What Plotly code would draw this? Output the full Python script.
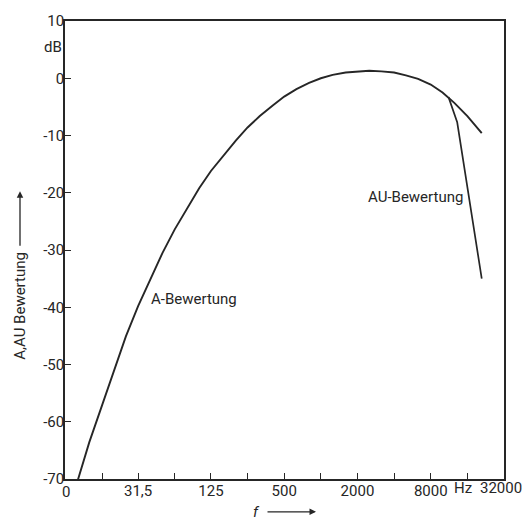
import numpy as np
import plotly.graph_objects as go

# A-weighting curve (Hz, dB)
a_freq = [10, 12.5, 16, 20, 25, 31.5, 40, 50, 63, 80, 100, 125, 160, 200, 250, 315,
          400, 500, 630, 800, 1000, 1250, 1600, 2000, 2500, 3150, 4000, 5000, 6300,
          8000, 10000, 12500, 16000, 21000]
a_db = [-70.4, -63.6, -57.0, -50.9, -45.1, -39.8, -35.0, -30.5, -26.4, -22.6, -19.2,
        -16.2, -13.4, -10.9, -8.6, -6.6, -4.8, -3.2, -1.9, -0.8, 0.0, 0.6, 1.0, 1.2,
        1.3, 1.2, 1.0, 0.5, -0.1, -1.1, -2.5, -4.3, -6.6, -9.6]

# AU-weighting branch (Hz, dB)
au_freq = [11200, 13200, 21000]
au_db = [-3.3, -7.7, -35.0]

x_tickvals = [7.9, 16, 31.5, 63, 125, 250, 500, 1000, 2000, 4000, 8000, 16000, 32000]
x_ticktext = ["", "", "31,5", "", "125", "", "500", "", "2000", "", "8000", "", ""]
y_tickvals = [10, 0, -10, -20, -30, -40, -50, -60, -70]
y_ticktext = ["10", "0", "-10", "-20", "-30", "-40", "-50", "-60", "-70"]

FONT = "Roboto, Liberation Sans, sans-serif"
INK = "#262626"
FS = 15

W, H = 524, 523
L, R, T, B = 65, 20, 19, 44
PW, PH = W - L - R, H - T - B


def px(x):
    return (x - L) / PW


def py(y):
    return (H - B - y) / PH


fig = go.Figure()
fig.add_trace(go.Scatter(x=a_freq, y=a_db, mode="lines",
                         line=dict(color=INK, width=1.9), showlegend=False))
fig.add_trace(go.Scatter(x=au_freq, y=au_db, mode="lines",
                         line=dict(color=INK, width=1.7), showlegend=False))

fig.update_layout(
    width=W, height=H,
    margin=dict(l=L, r=R, t=T, b=B),
    paper_bgcolor="white", plot_bgcolor="white",
    font=dict(family=FONT, size=FS, color=INK),
    xaxis=dict(type="log", range=[np.log10(7.9), np.log10(32000)],
               tickvals=x_tickvals, ticktext=x_ticktext,
               ticks="inside", ticklen=6, tickwidth=1.3, tickcolor=INK,
               showline=True, linecolor=INK, linewidth=1.6, mirror=True,
               showgrid=False, zeroline=False, tickfont=dict(size=FS),
               ticklabelstandoff=-3),
    yaxis=dict(range=[-70, 10], tickvals=y_tickvals, ticktext=y_ticktext,
               ticks="inside", ticklen=6, tickwidth=1.3, tickcolor=INK,
               showline=True, linecolor=INK, linewidth=1.6, mirror=True,
               showgrid=False, zeroline=False, tickfont=dict(size=FS),
               ticklabelstandoff=-4),
)

ann = [
    ("dB", 53, 45),
    ("0", 66, 492),
    ("Hz", 463, 488),
    ("32000", 501, 488),
    ("A-Bewertung", 194, 298),
    ("AU-Bewertung", 415, 196),
    ("<i>f</i>", 256, 512),
]
for text, x, y in ann:
    fig.add_annotation(text=text, xref="paper", yref="paper",
                       x=px(x), y=py(y),
                       showarrow=False, xanchor="center", yanchor="middle",
                       font=dict(family=FONT, size=FS, color=INK))

# y-axis title (rotated)
fig.add_annotation(text="A,AU Bewertung", xref="paper", yref="paper",
                   x=px(20), y=py(305), textangle=-90,
                   showarrow=False, xanchor="center", yanchor="middle",
                   font=dict(family=FONT, size=FS, color=INK))
# arrows
fig.add_annotation(text="", xref="paper", yref="paper",
                   x=px(20), y=py(190),
                   ax=0, ay=56, showarrow=True, arrowhead=2, arrowsize=1,
                   arrowwidth=1.3, arrowcolor=INK)
fig.add_annotation(text="", xref="paper", yref="paper",
                   x=px(316), y=py(512),
                   ax=-50, ay=0, showarrow=True, arrowhead=2, arrowsize=1,
                   arrowwidth=1.3, arrowcolor=INK)

fig.write_html("out.html", config={"displayModeBar": False},
               post_script="document.body.style.margin='0';")
